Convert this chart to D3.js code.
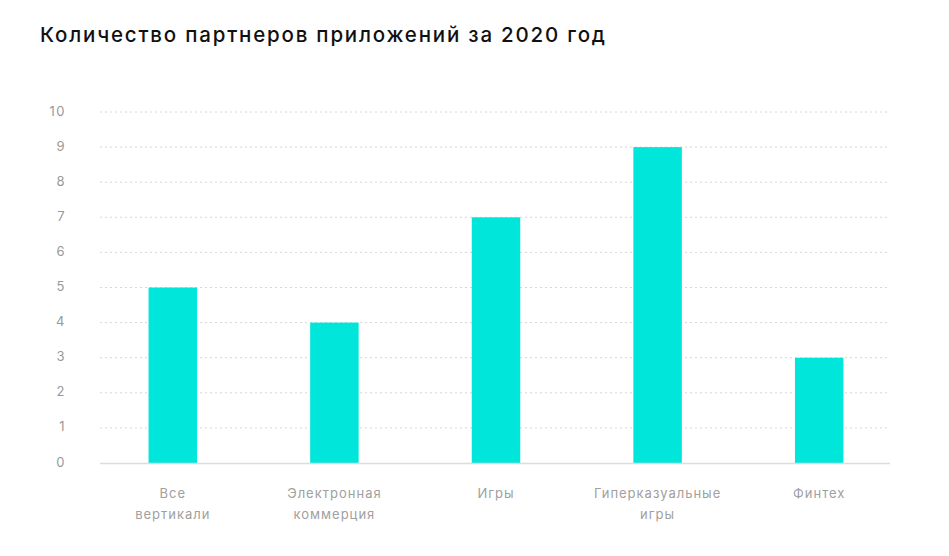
<!DOCTYPE html>
<html><head><meta charset="utf-8">
<script src="https://cdn.jsdelivr.net/npm/d3@7"></script>
<style>body{margin:0;background:#fff}svg{display:block}</style>
</head><body>
<script>
const categories = [["Все","вертикали"],["Электронная","коммерция"],["Игры"],["Гиперказуальные","игры"],["Финтех"]];
const values = [5,4,7,9,3];
const yTicks = [0,1,2,3,4,5,6,7,8,9,10];
const title = "Количество партнеров приложений за 2020 год";

const W=949,H=556;
const svg=d3.select("body").append("svg").attr("width",W).attr("height",H);
const font="Inter, 'Noto Sans', sans-serif";
svg.append("text").attr("x",40).attr("y",42).text(title)
  .attr("font-family",font).attr("font-size",20.5).attr("font-weight",500).attr("fill","#111")
  .attr("textLength",565).attr("lengthAdjust","spacing");

const x=d3.scaleBand().domain(d3.range(categories.length)).range([92,900]).paddingInner(0.7).paddingOuter(0.35);
const y=d3.scaleLinear().domain([0,10]).range([463,112]);

const g=svg.append("g");
g.selectAll("line.grid").data(yTicks.filter(d=>d>0)).join("line")
  .attr("x1",100).attr("x2",890).attr("y1",d=>y(d)).attr("y2",d=>y(d))
  .attr("stroke","#d6d6d6").attr("stroke-width",1).attr("stroke-dasharray","2,3");
g.selectAll("text.yt").data(yTicks).join("text")
  .attr("x",66).attr("y",d=>y(d)-1).attr("dy","0.35em").attr("text-anchor","end")
  .attr("font-family",font).attr("font-size",13).attr("letter-spacing",1.5).attr("fill","#999").text(d=>d);

g.selectAll("rect").data(values).join("rect")
  .attr("x",(d,i)=>x(i)).attr("width",x.bandwidth())
  .attr("y",d=>y(d)).attr("height",d=>y(0)-y(d)).attr("fill","#00E6DA");

g.append("line").attr("x1",100).attr("x2",890).attr("y1",y(0)+0.5).attr("y2",y(0)+0.5)
  .attr("stroke","#dcdcdc").attr("stroke-width",1.5);

categories.forEach((lines,i)=>{
  const t=g.append("text").attr("text-anchor","middle").attr("font-family",font)
    .attr("font-size",13).attr("letter-spacing",1).attr("fill","#a0a0a0");
  lines.forEach((l,j)=>t.append("tspan").attr("x",x(i)+x.bandwidth()/2).attr("y",498+j*21).text(l));
});
</script>
</body></html>
